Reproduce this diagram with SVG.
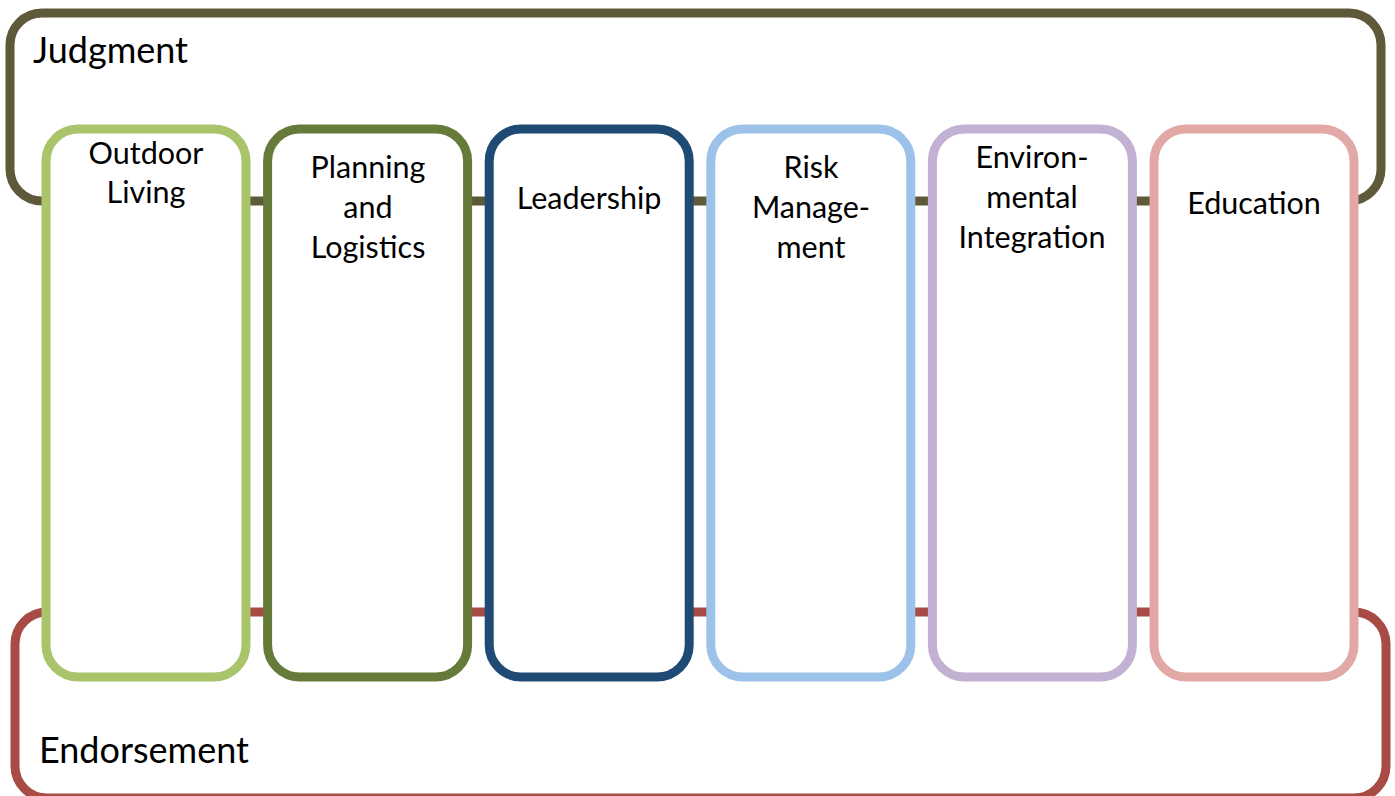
<svg xmlns="http://www.w3.org/2000/svg" width="1395" height="796" viewBox="0 0 1395 796">
<style>
.frame{fill:none;stroke-width:9}
.box{fill:#fff;stroke-width:9}
.t{font-family:Lato,"Open Sans","Liberation Sans",sans-serif;fill:#000;text-anchor:middle;font-size:30.5px}
.big{font-family:Lato,"Open Sans","Liberation Sans",sans-serif;fill:#000;font-size:36px}
</style>
<rect width="1395" height="796" fill="#fff"/>
<g id="connectors">
<rect id="judgment-frame" class="frame" x="10" y="13" width="1371" height="188" rx="32" stroke="#5E5939"/>
<rect id="endorsement-frame" class="frame" x="15" y="612" width="1371" height="186" rx="32" stroke="#A84B45"/>
</g>
<g id="judgment"><text class="big" x="33" y="63">Judgment</text></g>
<g id="endorsement"><text class="big" x="39" y="763">Endorsement</text></g>
<g id="outdoor-living">
<rect class="box" x="46" y="129" width="200" height="548" rx="32" stroke="#A9C46B"/>
<text class="t" x="146" y="164">Outdoor</text>
<text class="t" x="146" y="203">Living</text>
</g>
<g id="planning-logistics">
<rect class="box" x="267.6" y="129" width="200" height="548" rx="32" stroke="#667A3A"/>
<text class="t" x="368" y="178">Planning</text>
<text class="t" x="368" y="218">and</text>
<text class="t" x="368" y="258">Logistics</text>
</g>
<g id="leadership">
<rect class="box" x="489.2" y="129" width="200" height="548" rx="32" stroke="#1F4A74"/>
<text class="t" x="589" y="209">Leadership</text>
</g>
<g id="risk-management">
<rect class="box" x="710.8" y="129" width="200" height="548" rx="32" stroke="#9DC2EA"/>
<text class="t" x="811" y="178">Risk</text>
<text class="t" x="811" y="218">Manage-</text>
<text class="t" x="811" y="258">ment</text>
</g>
<g id="environmental-integration">
<rect class="box" x="932.4" y="129" width="200" height="548" rx="32" stroke="#C2B1D3"/>
<text class="t" x="1032" y="168">Environ-</text>
<text class="t" x="1032" y="208">mental</text>
<text class="t" x="1032" y="248">Integration</text>
</g>
<g id="education">
<rect class="box" x="1154" y="129" width="200" height="548" rx="32" stroke="#E2A8A6"/>
<text class="t" x="1254" y="214">Education</text>
</g>
</svg>
